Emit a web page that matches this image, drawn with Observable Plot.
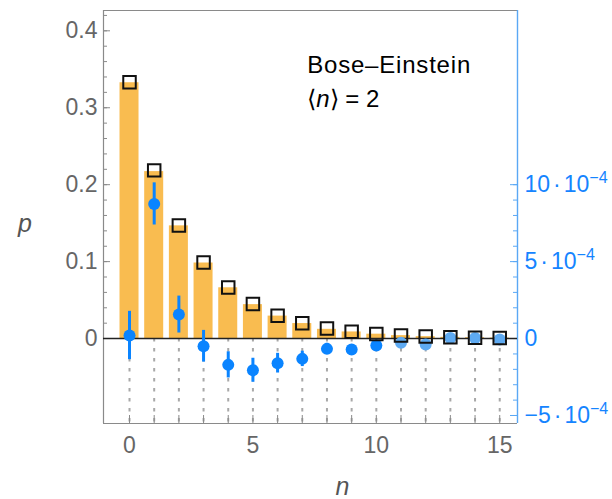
<!DOCTYPE html>
<html><head><meta charset="utf-8">
<script src="https://cdn.jsdelivr.net/npm/d3@7"></script>
<script src="https://cdn.jsdelivr.net/npm/@observablehq/plot@0.6"></script>
<style>
html,body{margin:0;padding:0;background:#fff;}
#chart{width:612px;height:499px;overflow:hidden;}
</style></head><body><div id="chart"></div>
<script>
// ---- data ----
const n = [0, 1, 2, 3, 4, 5, 6, 7, 8, 9, 10, 11, 12, 13, 14, 15];
const pBar = [0.3325, 0.2170, 0.1465, 0.0982, 0.0660, 0.0441, 0.0292, 0.0195, 0.0120, 0.0086, 0.0057, 0.0038, 0.0025, 0.0016, 0.0011, 0.0007];
const pTheory = [0.3333, 0.2186, 0.1470, 0.0988, 0.0664, 0.0448, 0.0296, 0.0199, 0.0132, 0.0089, 0.0059, 0.0039, 0.0026, 0.0017, 0.0012, 0.0008];
const dev = [0.20, 8.75, 1.56, -0.50, -1.71, -2.06, -1.60, -1.32, -0.67, -0.71, -0.45, -0.28, -0.39, 0.04, 0.04, -0.06]; // ×10^-4
const devErr = [1.57, 1.37, 1.20, 1.03, 0.85, 0.78, 0.64, 0.50, 0.36, 0.30, 0.25, 0.20, 0.18, 0.15, 0.12, 0.10]; // ×10^-4
const leftTicks = [0, 0.1, 0.2, 0.3, 0.4];
const leftTickLabels = ["0", "0.1", "0.2", "0.3", "0.4"];
const rightTicks = [-5, 0, 5, 10]; // ×10^-4
const rightTickLabels = ["−5·10|−4", "0", "5·10|−4", "10·10|−4"];
const xTicks = [0, 5, 10, 15];
const xTickLabels = ["0", "5", "10", "15"];
const title1 = "Bose–Einstein";
const title2 = "⟨n⟩ = 2";

// ---- layout ----
const W = 612, H = 499, mL = 103, mR = 95, mT = 10, mB = 76;
const X0 = -1.054, X1 = 15.72, Y0 = -0.1104, Y1 = 0.4264;
const kx = (W - mL - mR) / (X1 - X0);
const ky = (H - mT - mB) / (Y1 - Y0);
const R = 0.02; // left-axis units per 1e-4 of right axis

const rows = n.map((k, i) => ({
  n: k, bar: pBar[i], sq: pTheory[i],
  d: dev[i] * R, lo: (dev[i] - devErr[i]) * R, hi: (dev[i] + devErr[i]) * R,
  col: k >= 11 ? "#5eaaf2" : "#0a84ff"
}));

const leftMinor = d3.range(1, 22).map(i => +(i * 0.02).toFixed(2));
const rightMinor = d3.range(-5, 11).map(v => v * R);
const gray = "#8a8a8a", blueAxis = "#5aa8f5", blueText = "#1584ff";
const rLab = new Map(rightTicks.map((v, i) => [v, rightTickLabels[i]]));
const lLab = new Map(leftTicks.map((v, i) => [Math.round(v * 10), leftTickLabels[i]]));
const xLab = new Map(xTicks.map((v, i) => [v, xTickLabels[i]]));

const chart = Plot.plot({
  width: W, height: H,
  marginLeft: mL, marginRight: mR, marginTop: mT, marginBottom: mB,
  x: {domain: [X0, X1], axis: null},
  y: {domain: [Y0, Y1], axis: null},
  style: {fontFamily: "'Liberation Sans', Arial, sans-serif", background: "#fff"},
  marks: [
    Plot.rectY(rows, {x1: d => d.n - 0.385, x2: d => d.n + 0.385, y1: 0, y2: "bar", fill: "#f9bc50"}),
    Plot.ruleX(rows, {x: "n", y1: 0, y2: Y0, stroke: "#a8a8a8", strokeWidth: 2, strokeDasharray: "3.5,6.5"}),
    Plot.ruleX(n, {x: d => d, y1: Y0, y2: Y0 + 8 / ky, stroke: gray, strokeWidth: 1}),
    // frame
    Plot.ruleY([Y0, Y1], {stroke: gray, strokeWidth: 1.2}),
    Plot.ruleX([X0], {stroke: gray, strokeWidth: 1.2}),
    Plot.ruleX([X1], {stroke: blueAxis, strokeWidth: 1.4}),
    // left ticks
    Plot.ruleY(leftMinor, {x1: X0, x2: X0 + 4 / kx, stroke: gray}),
    Plot.ruleY(leftTicks, {x1: X0, x2: X0 + 7 / kx, stroke: gray}),
    // right ticks
    Plot.ruleY(rightMinor, {x1: X1 - 4 / kx, x2: X1, stroke: blueAxis}),
    Plot.ruleY(rightTicks.map(v => v * R), {x1: X1 - 7 / kx, x2: X1, stroke: blueAxis}),
    // zero line
    Plot.ruleY([0], {stroke: "#222", strokeWidth: 1.5}),
    // deviations
    Plot.ruleX(rows, {x: "n", y1: "lo", y2: "hi", stroke: "col", strokeWidth: 3}),
    Plot.dot(rows, {x: "n", y: "d", r: 6, fill: "col"}),
    // theory squares
    Plot.dot(rows, {x: "n", y: "sq", symbol: "square", r: 7.05, stroke: "#111", strokeWidth: 2, fill: "none"}),
    // axes labels
    Plot.axisY({ticks: leftTicks, tickSize: 0, tickPadding: 6, tickFormat: d => lLab.get(Math.round(d * 10)), color: "#666", fontSize: 23, label: null}),
    Plot.axisY({anchor: "right", ticks: rightTicks.map(v => v * R), tickSize: 0, tickPadding: 7, tickFormat: d => rLab.get(Math.round(d / R)), color: blueText, fontSize: 23, label: null}),
    Plot.axisX({ticks: xTicks, tickSize: 0, tickPadding: 13, tickFormat: d => xLab.get(d), color: "#666", fontSize: 23, label: null}),
    Plot.text(["p"], {text: d => d, frameAnchor: "left", dx: -85.5, dy: 7, fontStyle: "italic", fontSize: 25, fill: "#555"}),
    Plot.text(["n"], {text: d => d, frameAnchor: "bottom", dx: 32, dy: 71, lineAnchor: "bottom", fontStyle: "italic", fontSize: 25, fill: "#555"}),
    Plot.text([title1], {text: d => d, frameAnchor: "top-left", dx: 203.7, dy: 62.7, lineAnchor: "bottom", textAnchor: "start", fontSize: 24, fill: "#000"}),
    Plot.text([title2], {text: d => d, frameAnchor: "top-left", dx: 203.7, dy: 96, lineAnchor: "bottom", textAnchor: "start", fontSize: 24, fill: "#000"})
  ]
});
document.getElementById("chart").appendChild(chart);

// superscripts, spaced middle dot and italic n
const NS = "http://www.w3.org/2000/svg";
const span = (txt, attrs = {}) => {
  const e = document.createElementNS(NS, "tspan");
  for (const k in attrs) e.setAttribute(k, attrs[k]);
  e.textContent = txt;
  return e;
};
chart.querySelectorAll("text").forEach(t => {
  const s = t.textContent;
  if (s.includes("|")) {
    const [base, exp] = s.split("|");
    const [mant, ten] = base.split("·");
    t.textContent = "";
    t.append(span(mant), span("·", {dx: 3}), span(ten, {dx: 3}), span(exp, {dy: -9, "font-size": 16}));
  } else if (s === title2) {
    t.textContent = "";
    t.append(span("⟨"), span("n", {"font-style": "italic"}), span("⟩ = 2"));
  } else if (s === title1) {
    t.setAttribute("letter-spacing", "0.8");
  }
});
</script></body></html>
